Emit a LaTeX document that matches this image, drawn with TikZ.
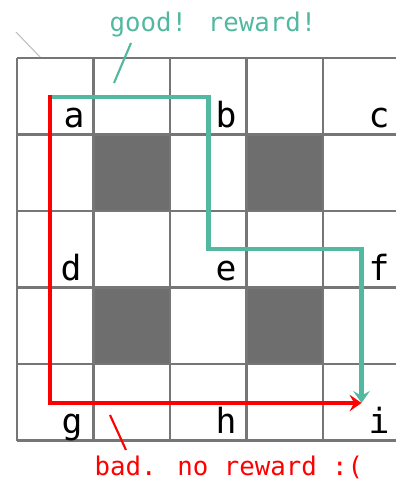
\documentclass[tikz,border=0pt]{standalone}
\usepackage{fontspec}
\newfontfamily\monof{DejaVu Sans Mono}
\usetikzlibrary{arrows.meta}
\definecolor{goodc}{RGB}{82,185,160}
\definecolor{badc}{RGB}{255,0,0}
\definecolor{gridc}{RGB}{118,118,118}
\definecolor{cellc}{RGB}{110,110,110}
\definecolor{faintc}{RGB}{190,190,190}
\tikzset{
  gridline/.style={draw=gridc, line width=2pt},
  darkcell/.style={fill=cellc},
  lbl/.style={font=\monof\fontsize{26}{30}\selectfont, anchor=base, inner sep=0pt, text=black},
  goodpath/.style={draw=goodc, line width=3.4pt, -{Stealth[length=9pt,width=12.5pt,inset=3.5pt]}},
  badpath/.style={draw=badc, line width=3.4pt, -{Stealth[length=9pt,width=12.5pt,inset=3.5pt]}},
  note/.style={font=\monof\fontsize{19.3}{23}\selectfont, anchor=base, inner sep=0pt},
  pointer/.style={line width=1.6pt},
}
\begin{document}
\begin{tikzpicture}[x=0.75pt,y=-0.75pt]
\useasboundingbox (0,0) rectangle (396,482);
% dark cells
\foreach \c/\r in {1/1,3/1,1/3,3/3}
  \fill[darkcell] (17+\c*76.5,58+\r*76.5) rectangle ++(76.5,76.5);
% grid
\foreach \i in {0,...,5}{
  \draw[gridline] (17+\i*76.5,58) -- (17+\i*76.5,440.5);
  \draw[gridline] (17,58+\i*76.5) -- (399.5,58+\i*76.5);
}
% faint corner stroke
\coordinate (f1) at (16,32);
\coordinate (f2) at (40,57);
\draw[faintc, line width=0.8pt] (f1) -- (f2);
% state labels
\node[lbl] (a) at (74,127) {a};
\node[lbl] (b) at (226,127) {b};
\node[lbl] (c) at (379,127) {c};
\node[lbl] (d) at (71,280) {d};
\node[lbl] (e) at (226,280) {e};
\node[lbl] (f) at (379,280) {f};
\node[lbl] (g) at (72,433) {g};
\node[lbl] (h) at (226,433) {h};
\node[lbl] (i) at (379,433) {i};
% path corners
\coordinate (s) at (50,97);
\coordinate (g1) at (208.5,97);
\coordinate (g2) at (208.5,249);
\coordinate (g3) at (361.5,249);
\coordinate (end) at (361.5,403);
\coordinate (r1) at (50,403);
\coordinate (s0) at (50,95);
\draw[goodpath] (s) -- (g1) -- (g2) -- (g3) -- (end);
\draw[badpath] (s0) -- (r1) -- (end);
% annotations
\node[note, text=goodc] (good) at (213,31) {good! reward!};
\node[note, text=badc] (bad) at (229,475) {bad. no reward :(};
\coordinate (gp1) at (131,43);
\coordinate (gp2) at (114,83);
\draw[pointer, goodc] (gp1) -- (gp2);
\coordinate (bp1) at (110,415);
\coordinate (bp2) at (126,450);
\draw[pointer, badc] (bp1) -- (bp2);
\end{tikzpicture}
\end{document}
